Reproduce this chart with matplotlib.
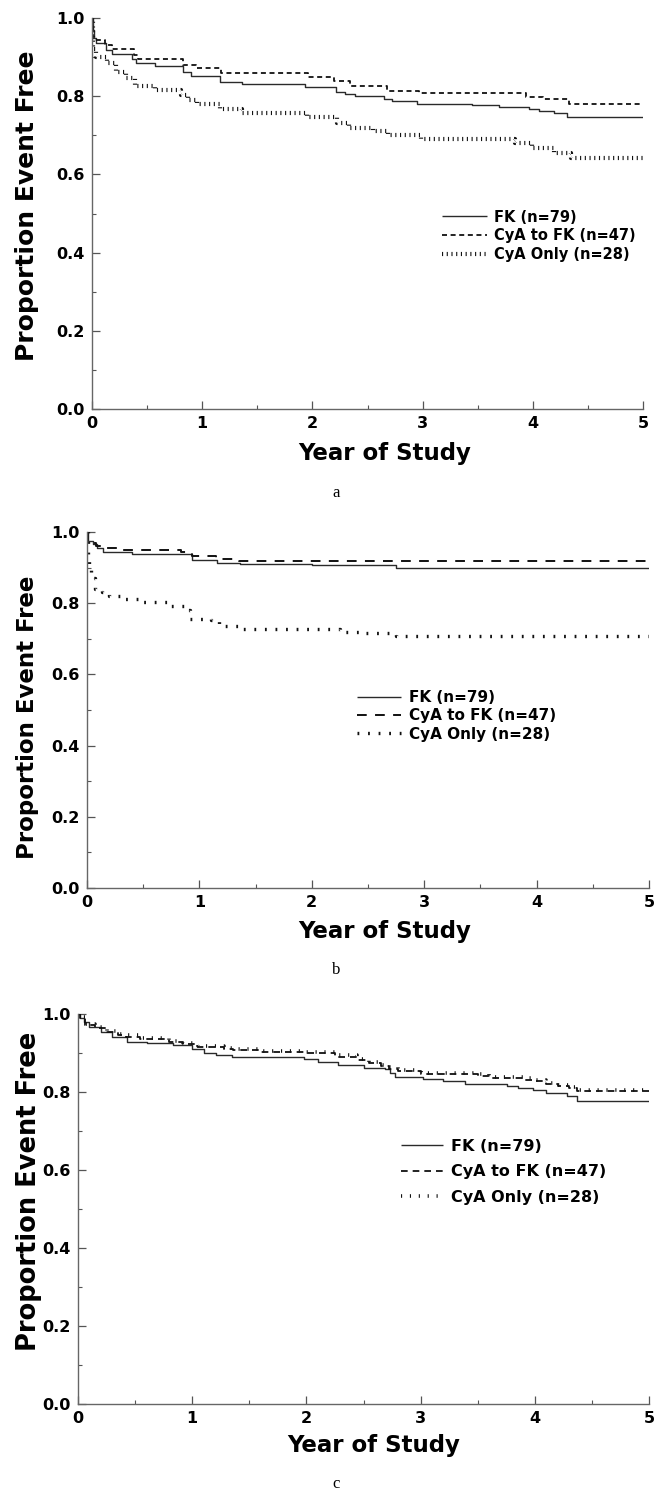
import numpy as np
import matplotlib
matplotlib.use("Agg")
import matplotlib.pyplot as plt
from matplotlib.ticker import MultipleLocator

plt.rcParams['font.family'] = ['DejaVu Sans']
plt.rcParams['lines.scale_dashes'] = False

# ---- data ----
labels = ['FK (n=79)', 'CyA to FK (n=47)', 'CyA Only (n=28)']
panel_letters = ['a', 'b', 'c']
x_ticks = [0, 1, 2, 3, 4, 5]
y_ticks = [0.0, 0.2, 0.4, 0.6, 0.8, 1.0]

# panel a
fk_a_t = [0, 0.01, 0.02, 0.04, 0.13, 0.18, 0.36, 0.40, 0.57, 0.83, 0.90, 1.16, 1.36, 1.93,
          2.21, 2.30, 2.39, 2.65, 2.72, 2.95, 3.45, 3.69, 3.97, 4.06, 4.19, 4.31, 5.0]
fk_a_p = [1.0, 0.97, 0.95, 0.935, 0.918, 0.907, 0.895, 0.884, 0.876, 0.863, 0.852, 0.837, 0.831, 0.823,
          0.812, 0.806, 0.800, 0.792, 0.787, 0.781, 0.777, 0.773, 0.766, 0.763, 0.756, 0.747, 0.747]
cf_a_t = [0, 0.01, 0.12, 0.18, 0.38, 0.42, 0.83, 0.94, 1.17, 1.96, 2.20, 2.34, 2.68, 2.97,
          3.94, 4.09, 4.33, 5.0]
cf_a_p = [1.0, 0.944, 0.931, 0.92, 0.905, 0.894, 0.88, 0.871, 0.86, 0.85, 0.839, 0.826, 0.814, 0.807,
          0.799, 0.792, 0.780, 0.780]
co_a_t = [0, 0.005, 0.04, 0.14, 0.22, 0.31, 0.39, 0.57, 0.81, 0.87, 0.95, 1.16, 1.36, 1.95,
          2.22, 2.33, 2.55, 2.69, 2.99, 3.84, 3.99, 4.19, 4.35, 5.0]
co_a_p = [1.0, 0.92, 0.901, 0.884, 0.863, 0.846, 0.826, 0.816, 0.803, 0.79, 0.779, 0.766, 0.757, 0.748,
          0.731, 0.718, 0.712, 0.701, 0.69, 0.681, 0.667, 0.654, 0.641, 0.641]

# panel b
fk_b_t = [0, 0.005, 0.05, 0.09, 0.14, 0.40, 0.93, 1.16, 1.36, 2.0, 2.75, 5.0]
fk_b_p = [1.0, 0.975, 0.965, 0.955, 0.945, 0.937, 0.921, 0.914, 0.91, 0.906, 0.90, 0.90]
cf_b_t = [0, 0.005, 0.08, 0.17, 0.32, 0.84, 0.93, 1.15, 1.35, 5.0]
cf_b_p = [1.0, 0.969, 0.96, 0.954, 0.95, 0.943, 0.932, 0.925, 0.918, 0.918]
co_b_t = [0, 0.005, 0.02, 0.04, 0.07, 0.13, 0.2, 0.29, 0.5, 0.75, 0.88, 0.92, 1.1, 1.17, 1.36,
          2.25, 2.45, 2.75, 5.0]
co_b_p = [1.0, 0.92, 0.893, 0.87, 0.84, 0.832, 0.82, 0.812, 0.803, 0.792, 0.782, 0.756, 0.753, 0.736, 0.728,
          0.72, 0.715, 0.708, 0.708]

# panel c
fk_c_t = [0, 0.02, 0.05, 0.10, 0.2, 0.3, 0.43, 0.6, 0.83, 1.0, 1.1, 1.21, 1.35, 1.98, 2.1, 2.28,
          2.5, 2.69, 2.73, 2.78, 3.02, 3.2, 3.39, 3.76, 3.85, 3.98, 4.1, 4.28, 4.37, 5.0]
fk_c_p = [1.0, 0.99, 0.98, 0.967, 0.955, 0.942, 0.929, 0.925, 0.921, 0.91, 0.901, 0.895, 0.889, 0.884,
          0.878, 0.869, 0.861, 0.859, 0.848, 0.838, 0.834, 0.827, 0.82, 0.815, 0.81, 0.805, 0.797, 0.79,
          0.778, 0.778]
cf_c_t = [0, 0.02, 0.06, 0.15, 0.25, 0.35, 0.42, 0.54, 0.8, 0.92, 1.05, 1.28, 1.36, 1.59, 2.0, 2.25,
          2.44, 2.55, 2.65, 2.72, 2.8, 3.0, 3.5, 3.6, 3.9, 4.0, 4.1, 4.2, 4.3, 4.37, 5.0]
cf_c_p = [1.0, 0.99, 0.972, 0.963, 0.954, 0.945, 0.942, 0.936, 0.929, 0.922, 0.916, 0.91, 0.907, 0.903,
          0.899, 0.891, 0.882, 0.875, 0.867, 0.86, 0.853, 0.847, 0.842, 0.836, 0.832, 0.828, 0.82, 0.815,
          0.81, 0.803, 0.803]
co_c_t = [0, 0.02, 0.06, 0.15, 0.25, 0.35, 0.42, 0.54, 0.8, 0.92, 1.05, 1.28, 1.36, 1.59, 2.0, 2.25,
          2.44, 2.55, 2.65, 2.72, 2.8, 3.0, 3.5, 3.6, 3.9, 4.0, 4.1, 4.2, 4.3, 4.37, 5.0]
co_c_p = [1.0, 0.992, 0.975, 0.966, 0.957, 0.948, 0.945, 0.939, 0.932, 0.925, 0.919, 0.913, 0.91, 0.906,
          0.902, 0.894, 0.885, 0.878, 0.87, 0.863, 0.856, 0.85, 0.845, 0.839, 0.835, 0.831, 0.823, 0.818,
          0.813, 0.806, 0.806]

# ---- layout (pixel boxes from the reference, 660 x 1494) ----
W, H = 660, 1494
fig = plt.figure(figsize=(W / 100, H / 100), dpi=100)

def box(left, right, top, bottom):
    return [left / W, 1 - bottom / H, (right - left) / W, (bottom - top) / H]

panels = [
    dict(rect=box(92, 643, 18, 409), series=[(fk_a_t, fk_a_p), (cf_a_t, cf_a_p), (co_a_t, co_a_p)],
         styles=[dict(lw=1.0, color='#2a2a2a'),
                 dict(lw=1.3, color='#111111', dashes=(3.6, 2.6)),
                 dict(lw=3.0, color='#111111', dashes=(0.8, 2.6))],
         leg=dict(anchor=(0.635, 0.51), size=10.5, hl=3.1, sp=0.25),
         ylab=(-0.118, 0.52, 18), xlab=(0.532, -0.085), letter=493),
    dict(rect=box(87, 649, 532, 888), series=[(fk_b_t, fk_b_p), (cf_b_t, cf_b_p), (co_b_t, co_b_p)],
         styles=[dict(lw=1.0, color='#2a2a2a'),
                 dict(lw=1.4, color='#111111', dashes=(7.0, 6.0)),
                 dict(lw=2.4, color='#111111', dashes=(1.3, 6.3))],
         leg=dict(anchor=(0.48, 0.555), size=11, hl=2.9, sp=0.2),
         ylab=(-0.105, 0.48, 16.5), xlab=(0.53, -0.09), letter=970),
    dict(rect=box(78, 649, 1014, 1404), series=[(fk_c_t, fk_c_p), (cf_c_t, cf_c_p), (co_c_t, co_c_p)],
         styles=[dict(lw=1.0, color='#2a2a2a'),
                 dict(lw=1.3, color='#111111', dashes=(4.8, 3.6)),
                 dict(lw=2.6, color='#111111', dashes=(0.8, 5.6))],
         leg=dict(anchor=(0.566, 0.68), size=11.5, hl=2.6, sp=0.65),
         ylab=(-0.086, 0.544, 18.5), xlab=(0.518, -0.078), letter=1484),
]

for i, p in enumerate(panels):
    ax = fig.add_axes(p['rect'])
    handles = []
    for (t, s), st in zip(p['series'], p['styles']):
        ln, = ax.step(t, s, where='post', solid_capstyle='butt', **st)
        handles.append(ln)

    ax.set_xlim(0, 5)
    ax.set_ylim(0, 1.0)
    ax.set_xticks(x_ticks)
    ax.set_yticks(y_ticks)
    ax.set_xticklabels([str(v) for v in x_ticks])
    ax.set_yticklabels(['%.1f' % v for v in y_ticks])
    ax.xaxis.set_minor_locator(MultipleLocator(0.5))
    ax.yaxis.set_minor_locator(MultipleLocator(0.1))
    ax.tick_params(which='major', direction='in', length=6, width=0.9, color='#555555',
                   labelsize=11.5, pad=5)
    ax.tick_params(which='minor', direction='in', length=3, width=0.8, color='#555555')
    for lab in ax.get_xticklabels() + ax.get_yticklabels():
        lab.set_fontweight('bold')
    for side in ['top', 'right']:
        ax.spines[side].set_visible(False)
    for side in ['left', 'bottom']:
        ax.spines[side].set_color('#666666')
        ax.spines[side].set_linewidth(1.0)

    ax.set_ylabel('Proportion Event Free', fontsize=p['ylab'][2], fontweight='heavy', va='center')
    ax.yaxis.set_label_coords(p['ylab'][0], p['ylab'][1])
    ax.set_xlabel('Year of Study', fontsize=16.5, fontweight='heavy', va='top')
    ax.xaxis.set_label_coords(p['xlab'][0], p['xlab'][1])

    lg = p['leg']
    ax.legend(handles, labels, loc='upper left', bbox_to_anchor=lg['anchor'], frameon=False,
              borderpad=0, borderaxespad=0, handlelength=lg['hl'], handletextpad=0.5,
              labelspacing=lg['sp'], prop=dict(weight='bold', size=lg['size']))

    fig.text(336 / W, 1 - p['letter'] / H, panel_letters[i], ha='center', va='center',
             fontsize=12, family='Liberation Serif')

fig.savefig('out.png', dpi=100)
